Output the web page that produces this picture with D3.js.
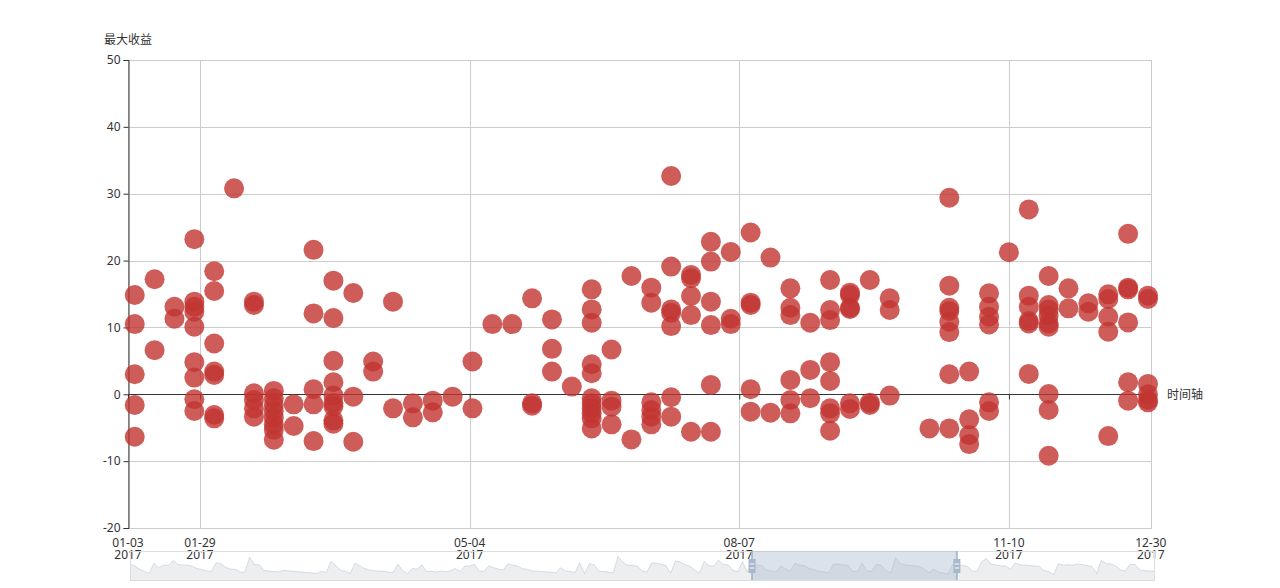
<!DOCTYPE html>
<html>
<head>
<meta charset="utf-8">
<script src="https://cdn.jsdelivr.net/npm/d3@7"></script>
<style>
  html, body { margin: 0; padding: 0; background: #fff; }
  svg { display: block; }
  text { font-family: "Noto Sans", "Noto Sans CJK SC", sans-serif; font-size: 12px; fill: #333; }
</style>
</head>
<body>
<svg id="chart" width="1280" height="588"></svg>
<script>
// ---- data ----
const weekDates = [
  "2017-01-06","2017-01-13","2017-01-20","2017-01-27",
  "2017-02-03","2017-02-10","2017-02-17","2017-02-24",
  "2017-03-03","2017-03-10","2017-03-17","2017-03-24","2017-03-31",
  "2017-04-07","2017-04-14","2017-04-21","2017-04-28",
  "2017-05-05","2017-05-12","2017-05-19","2017-05-26",
  "2017-06-02","2017-06-09","2017-06-16","2017-06-23","2017-06-30",
  "2017-07-07","2017-07-14","2017-07-21","2017-07-28",
  "2017-08-04","2017-08-11","2017-08-18","2017-08-25",
  "2017-09-01","2017-09-08","2017-09-15","2017-09-22","2017-09-29",
  "2017-10-06","2017-10-13","2017-10-20","2017-10-27",
  "2017-11-03","2017-11-10","2017-11-17","2017-11-24",
  "2017-12-01","2017-12-08","2017-12-15","2017-12-22","2017-12-29"
];
const maxReturn = [
  [14.85, 10.5, 3.0, -1.6, -6.35],
  [17.2, 6.6],
  [13.1, 11.3],
  [23.2, 13.85, 13.1, 12.35, 10.1, 4.8, 2.5, -0.75, -2.5],
  [18.4, 15.45, 7.6, 3.4, 2.9, -3.1, -3.6],
  [30.8],
  [13.85, 13.35, 0.15, -0.85, -2.1, -3.35],
  [0.5, -0.6, -1.6, -2.5, -3.5, -4.5, -5.3, -6.8],
  [-1.5, -4.75],
  [21.6, 12.1, 0.75, -1.5, -7.0],
  [17.0, 11.4, 5.0, 1.8, -0.2, -1.3, -1.8, -3.9, -4.4],
  [15.15, -0.35, -7.1],
  [4.9, 3.4],
  [13.85, -2.1],
  [-1.35, -3.45],
  [-0.95, -2.7],
  [-0.35],
  [4.9, -2.1],
  [10.5],
  [10.5],
  [14.35, -1.35, -1.7],
  [11.2, 6.8, 3.4],
  [1.15],
  [15.7, 12.7, 10.7, 4.5, 3.15, -0.6, -1.35, -2.1, -2.85, -3.6, -5.1],
  [6.7, -0.95, -1.85, -4.5],
  [17.7, -6.75],
  [15.95, 13.7, -1.2, -2.35, -3.35, -4.5],
  [32.65, 19.1, 12.7, 12.2, 10.2, -0.45, -3.35],
  [17.85, 17.35, 14.7, 11.85, -5.6],
  [22.8, 19.85, 13.85, 10.35, 1.4, -5.6],
  [21.3, 11.3, 10.5],
  [24.2, 13.7, 13.35, 0.75, -2.6],
  [20.45, -2.75],
  [15.85, 12.95, 11.85, 2.15, -0.85, -2.85],
  [10.7, 3.65, -0.6],
  [17.1, 12.6, 11.1, 4.8, 2.0, -2.1, -2.85, -5.45],
  [15.2, 14.85, 12.95, 12.75, -1.35, -2.2],
  [17.1, -1.25, -1.6],
  [14.35, 12.6, -0.2],
  [],
  [-5.1],
  [29.4, 16.25, 12.95, 12.45, 10.85, 9.3, 3.0, -5.1],
  [3.4, -3.75, -6.1, -7.45],
  [15.1, 13.1, 11.6, 10.45, -1.2, -2.5],
  [21.25],
  [27.65, 14.75, 13.1, 10.95, 10.6, 3.05],
  [17.7, 13.35, 12.7, 11.75, 10.6, 10.1, 0.05, -2.35, -9.2],
  [15.85, 12.85],
  [13.6, 12.35],
  [14.95, 14.25, 11.6, 9.35, -6.25],
  [24.0, 15.95, 15.7, 10.75, 1.8, -0.95],
  [14.75, 14.25, 1.55, 0, -0.85, -1.2]
];
const xTickDates = ["2017-01-03","2017-01-29","2017-05-04","2017-08-07","2017-11-10","2017-12-30"];
const xDomain = ["2017-01-03 15:00", "2017-12-30 10:00"];
const yTicks = [-20, -10, 0, 10, 20, 30, 40, 50];
const yAxisName = "最大收益";
const xAxisName = "时间轴";
const zoomWindow = ["2017-08-11 12:00", "2017-10-22 16:00"]; // slider selection (as shown)

// ---- layout ----
const parse = d3.timeParse("%Y-%m-%d");
const parseT = d3.timeParse("%Y-%m-%d %H:%M");
const L = 128, R = 1152, T = 60, B = 528;
const svg = d3.select("#chart");

const x = d3.scaleTime().domain(xDomain.map(parseT)).range([L, R]).clamp(true);
const y = d3.scaleLinear().domain([-20, 50]).range([B, T]);

const points = [];
weekDates.forEach((d, i) => maxReturn[i].forEach(v => points.push({ date: parse(d), value: v })));

// grid
const grid = svg.append("g");
grid.selectAll("line.h").data(yTicks).join("line")
  .attr("x1", L).attr("x2", R)
  .attr("y1", d => Math.round(y(d)) + 0.5).attr("y2", d => Math.round(y(d)) + 0.5)
  .attr("stroke", "#ccc").attr("stroke-width", 1);
grid.selectAll("line.v").data(xTickDates.map(parse)).join("line")
  .attr("x1", d => Math.round(x(d)) + 0.5).attr("x2", d => Math.round(x(d)) + 0.5)
  .attr("y1", T).attr("y2", B)
  .attr("stroke", "#ccc").attr("stroke-width", 1);

// y axis
const yAxis = d3.axisLeft(y).tickValues(yTicks).tickSize(5).tickPadding(3).tickFormat(d => String(d));
const yg = svg.append("g").attr("transform", `translate(${L + 0.5},0)`).call(yAxis);
yg.select(".domain").attr("stroke", "#333");
yg.selectAll(".tick line").attr("stroke", "#333");
yg.selectAll(".tick text").attr("fill", "#333").style("font-size", "12px")
  .style("font-family", "'Noto Sans', 'Noto Sans CJK SC', sans-serif");

svg.append("text").attr("x", L).attr("y", T - 16).attr("text-anchor", "middle")
  .text(yAxisName);

// x axis on zero
const zeroY = Math.round(y(0)) + 0.5;
const xAxis = d3.axisBottom(x).tickValues(xTickDates.map(parse)).tickSize(5).tickFormat("");
const xg = svg.append("g").attr("transform", `translate(0,${zeroY})`).call(xAxis);
xg.select(".domain").attr("stroke", "#333").attr("d", `M${L},0H${R}`);
xg.selectAll(".tick line").attr("stroke", "#333");

svg.append("text").attr("x", R + 15).attr("y", zeroY).attr("dominant-baseline", "central")
  .text(xAxisName);

// x tick labels at bottom
const fmtMD = d3.timeFormat("%m-%d"), fmtY = d3.timeFormat("%Y");
const xl = svg.append("g").selectAll("text").data(xTickDates.map(parse)).join("text")
  .attr("x", d => x(d)).attr("y", B + 19).attr("text-anchor", "middle");
xl.append("tspan").attr("x", d => x(d)).text(d => fmtMD(d));
xl.append("tspan").attr("x", d => x(d)).attr("dy", 12).text(d => fmtY(d));

// points
svg.append("g").selectAll("circle").data(points).join("circle")
  .attr("cx", d => x(d.date)).attr("cy", d => y(d.value)).attr("r", 10)
  .attr("fill", "#c23531").attr("fill-opacity", 0.8);

// ---- dataZoom slider ----
const sL = 130, sR = 1154, sT = 551, sB = 580;
const flat = points.map(p => p.value);
const ext = d3.extent(flat);
const off = (ext[1] - ext[0]) * 0.3;
const sx = d3.scaleLinear().domain([0, flat.length - 1]).range([sL, sR]);
const sy = d3.scaleLinear().domain([ext[0] - off, ext[1] + off]).range([sB, sT]);
const slider = svg.append("g");
slider.append("path")
  .attr("d", d3.area().x((d, i) => sx(i)).y0(sB).y1(d => sy(d))(flat))
  .attr("fill", "rgba(47,69,84,0.3)").attr("fill-opacity", 0.3);
slider.append("path")
  .attr("d", d3.line().x((d, i) => sx(i)).y(d => sy(d))(flat))
  .attr("fill", "none").attr("stroke", "#2f4554").attr("stroke-opacity", 0.3).attr("stroke-width", 0.5);
slider.append("rect").attr("x", sL + 0.5).attr("y", sT + 0.5).attr("width", sR - sL).attr("height", sB - sT)
  .attr("fill", "none").attr("stroke", "#ddd");
const h0 = x(parseT(zoomWindow[0])), h1 = x(parseT(zoomWindow[1]));
slider.append("rect").attr("x", h0).attr("y", sT).attr("width", h1 - h0).attr("height", sB - sT)
  .attr("fill", "rgba(167,183,204,0.4)");
[h0, h1].forEach(hx => {
  const g = slider.append("g");
  g.append("rect").attr("x", hx - 0.9).attr("y", sT).attr("width", 1.8).attr("height", sB - sT).attr("fill", "#a7b7cc");
  g.append("rect").attr("x", hx - 3.5).attr("y", 559).attr("width", 7).attr("height", 14).attr("fill", "#a7b7cc");
  g.append("rect").attr("x", hx - 2.3).attr("y", 563.5).attr("width", 4.6).attr("height", 1).attr("fill", "#fff");
  g.append("rect").attr("x", hx - 2.3).attr("y", 567.5).attr("width", 4.6).attr("height", 1).attr("fill", "#fff");
});
</script>
</body>
</html>
